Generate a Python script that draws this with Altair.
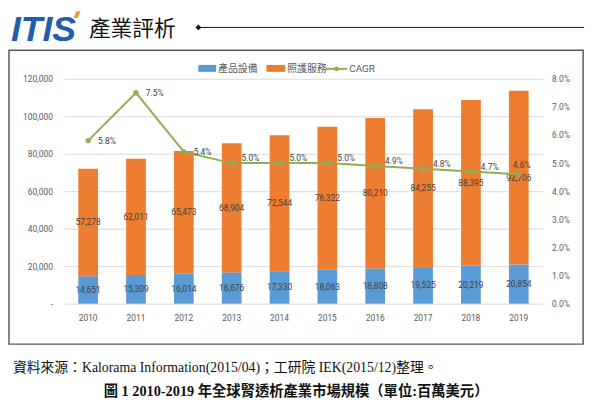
import altair as alt
import pandas as pd

# ---------------- data ----------------
years = ["2010", "2011", "2012", "2013", "2014", "2015", "2016", "2017", "2018", "2019"]
equipment = [14651, 15309, 16014, 16676, 17330, 18063, 18808, 19525, 20219, 20854]
services = [57278, 62011, 65473, 68904, 72544, 76322, 80210, 84255, 88395, 92706]
cagr_pct = [5.8, 7.5, 5.4, 5.0, 5.0, 5.0, 4.9, 4.8, 4.7, 4.6]
series_names = ["產品設備", "照護服務", "CAGR"]
left_ticks = [0, 20000, 40000, 60000, 80000, 100000, 120000]
right_ticks = [0.0, 0.01, 0.02, 0.03, 0.04, 0.05, 0.06, 0.07, 0.08]
header_title = "產業評析"
logo_text = "ITIS"
source_text = "資料來源：Kalorama Information(2015/04)；工研院 IEK(2015/12)整理。"
caption_text = "圖 1 2010-2019 年全球腎透析產業市場規模（單位:百萬美元）"

rows = []
for i, yr in enumerate(years):
    rows.append({"year": yr, "series": series_names[0], "value": equipment[i], "ord": 0,
                 "mid": equipment[i] / 2})
    rows.append({"year": yr, "series": series_names[1], "value": services[i], "ord": 1,
                 "mid": equipment[i] + services[i] / 2})
bars_df = pd.DataFrame(rows)
cagr_df = pd.DataFrame({"year": years, "cagr": [c / 100 for c in cagr_pct]})
one = pd.DataFrame({"k": [0]})

BLUE = "#5B9BD5"
ORANGE = "#ED7D31"
GREEN = "#8FAF54"
NUM_FONT = "Roboto"
CJK_FONT = "Noto Sans CJK TC"
SERIF = "Liberation Serif, Noto Sans CJK TC"

W, H = 485, 228

x_axis = alt.Axis(title=None, labelAngle=0, ticks=False, domain=False,
                  labelPadding=10, labelFont=NUM_FONT, labelFontSize=8.5,
                  labelColor="#595959", grid=False)
x_scale = alt.Scale(paddingInner=0, paddingOuter=0)


def xe():
    return alt.X("year:O", scale=x_scale, axis=x_axis)


# ---------------- left (stacked bars) ----------------
y_left_scale = alt.Scale(domain=[0, 120000], nice=False)
y_left_axis = alt.Axis(values=left_ticks, tickCount=7, ticks=False, domain=False,
                       labelPadding=12, labelOverlap=False,
                       labelFont=NUM_FONT, labelFontSize=8.5, labelColor="#595959",
                       grid=True, gridColor="#D9D9D9", gridWidth=1,
                       labelExpr="datum.value == 0 ? '-' : format(datum.value, ',')")
bars = alt.Chart(bars_df).mark_bar(size=20).encode(
    x=xe(),
    y=alt.Y("value:Q", stack="zero", scale=y_left_scale, title=None, axis=y_left_axis),
    color=alt.Color("series:N", scale=alt.Scale(domain=series_names[:2], range=[BLUE, ORANGE]),
                    legend=None),
    order=alt.Order("ord:Q"),
)
bar_labels = alt.Chart(bars_df).mark_text(font=NUM_FONT, fontSize=8.5, color="#404040",
                                          baseline="middle").encode(
    x=xe(),
    y=alt.Y("mid:Q", scale=y_left_scale, title=None, axis=y_left_axis),
    text=alt.Text("value:Q", format=","),
)
left = alt.layer(bars, bar_labels)

# ---------------- right (CAGR line) ----------------
y_right_scale = alt.Scale(domain=[0, 0.08], nice=False)
y_right_axis = alt.Axis(orient="right", values=right_ticks, tickCount=9, format=".1%",
                        grid=False, ticks=False, domain=False, labelPadding=9,
                        labelOverlap=False, labelFont=NUM_FONT,
                        labelFontSize=8.5, labelColor="#595959")


def yr_():
    return alt.Y("cagr:Q", scale=y_right_scale, title=None, axis=y_right_axis)


line = alt.Chart(cagr_df).mark_line(color=GREEN, strokeWidth=2).encode(x=xe(), y=yr_())
pts = alt.Chart(cagr_df).mark_point(color=GREEN, filled=True, size=30, opacity=1).encode(
    x=xe(), y=yr_())
lab_style = dict(font=NUM_FONT, fontSize=8.5, color="#404040", baseline="middle")
lab1 = alt.Chart(cagr_df).transform_filter(
    alt.FieldOneOfPredicate(field="year", oneOf=years[:3])
).mark_text(align="left", dx=10, dy=0, **lab_style).encode(
    x=xe(), y=yr_(), text=alt.Text("cagr:Q", format=".1%"))
lab2 = alt.Chart(cagr_df).transform_filter(
    alt.FieldOneOfPredicate(field="year", oneOf=years[3:9])
).mark_text(align="left", dx=10, dy=-5, **lab_style).encode(
    x=xe(), y=yr_(), text=alt.Text("cagr:Q", format=".1%"))
lab3 = alt.Chart(cagr_df).transform_filter(
    alt.FieldOneOfPredicate(field="year", oneOf=years[9:])
).mark_text(align="center", dx=3, dy=-9, **lab_style).encode(
    x=xe(), y=yr_(), text=alt.Text("cagr:Q", format=".1%"))
right = alt.layer(line, pts, lab1, lab2, lab3)

# ---------------- decorations (pixel-placed, relative to plot area) ----------------
frame = alt.Chart(one).mark_rect(filled=False, stroke="#5A5A5A", strokeWidth=1.5).encode(
    x=alt.value(-56), x2=alt.value(526), y=alt.value(-29), y2=alt.value(269))
logo = alt.Chart(one).mark_text(font="Liberation Sans", fontSize=36, fontWeight="bold",
                                fontStyle="italic", color="#1F5EAE", align="left",
                                baseline="alphabetic").encode(
    x=alt.value(-54), y=alt.value(-38), text=alt.value(logo_text))
logo_acc = alt.Chart(one).mark_point(shape="M -0.2 -1 L 1 -1 L 0.2 1 L -1 1 Z", filled=True,
                                     size=50, color="#F39A2B", opacity=1).encode(
    x=alt.value(13), y=alt.value(-65))
title = alt.Chart(one).mark_text(font=CJK_FONT, fontSize=22, color="#111111", align="left",
                                 baseline="middle").encode(
    x=alt.value(25), y=alt.value(-50), text=alt.value(header_title))
hline = alt.Chart(one).mark_rule(color="#111111", strokeWidth=1).encode(
    x=alt.value(135), x2=alt.value(527), y=alt.value(-52))
diamond = alt.Chart(one).mark_point(shape="diamond", filled=True, size=35, color="#111111",
                                    opacity=1).encode(x=alt.value(136), y=alt.value(-52))

# legend
leg_sw1 = alt.Chart(one).mark_rect(color=BLUE).encode(
    x=alt.value(136), x2=alt.value(154), y=alt.value(-14), y2=alt.value(-7))
leg_t1 = alt.Chart(one).mark_text(font=CJK_FONT, fontSize=10, color="#595959", align="left",
                                  baseline="middle").encode(
    x=alt.value(156), y=alt.value(-10), text=alt.value(series_names[0]))
leg_sw2 = alt.Chart(one).mark_rect(color=ORANGE).encode(
    x=alt.value(205), x2=alt.value(224), y=alt.value(-14), y2=alt.value(-7))
leg_t2 = alt.Chart(one).mark_text(font=CJK_FONT, fontSize=10, color="#595959", align="left",
                                  baseline="middle").encode(
    x=alt.value(226), y=alt.value(-10), text=alt.value(series_names[1]))
leg_ln = alt.Chart(one).mark_rule(color=GREEN, strokeWidth=2).encode(
    x=alt.value(265), x2=alt.value(287), y=alt.value(-10))
leg_pt = alt.Chart(one).mark_point(color=GREEN, filled=True, size=25, opacity=1).encode(
    x=alt.value(276), y=alt.value(-10))
leg_t3 = alt.Chart(one).mark_text(font=NUM_FONT, fontSize=10, color="#595959", align="left",
                                  baseline="middle").encode(
    x=alt.value(289), y=alt.value(-10), text=alt.value(series_names[2]))

# footer
src = alt.Chart(one).mark_text(font=SERIF, fontSize=14, color="#111111", align="left",
                               baseline="middle").encode(
    x=alt.value(-52), y=alt.value(293), text=alt.value(source_text))
cap = alt.Chart(one).mark_text(font=SERIF, fontSize=14.5, fontWeight="bold", color="#111111",
                               align="center", baseline="middle").encode(
    x=alt.value(235), y=alt.value(318), text=alt.value(caption_text))

decor = alt.layer(frame, logo, logo_acc, title, hline, diamond,
                  leg_sw1, leg_t1, leg_sw2, leg_t2, leg_ln, leg_pt, leg_t3, src, cap)

chart = alt.layer(decor, left, right).resolve_scale(y="independent").properties(
    width=W, height=H,
    autosize=alt.AutoSizeParams(type="none"),
    padding={"left": 57, "top": 69, "right": 50, "bottom": 100},
    background="white",
).configure_view(stroke=None)

chart.save("out.html", embed_options={"renderer": "svg", "actions": False})
